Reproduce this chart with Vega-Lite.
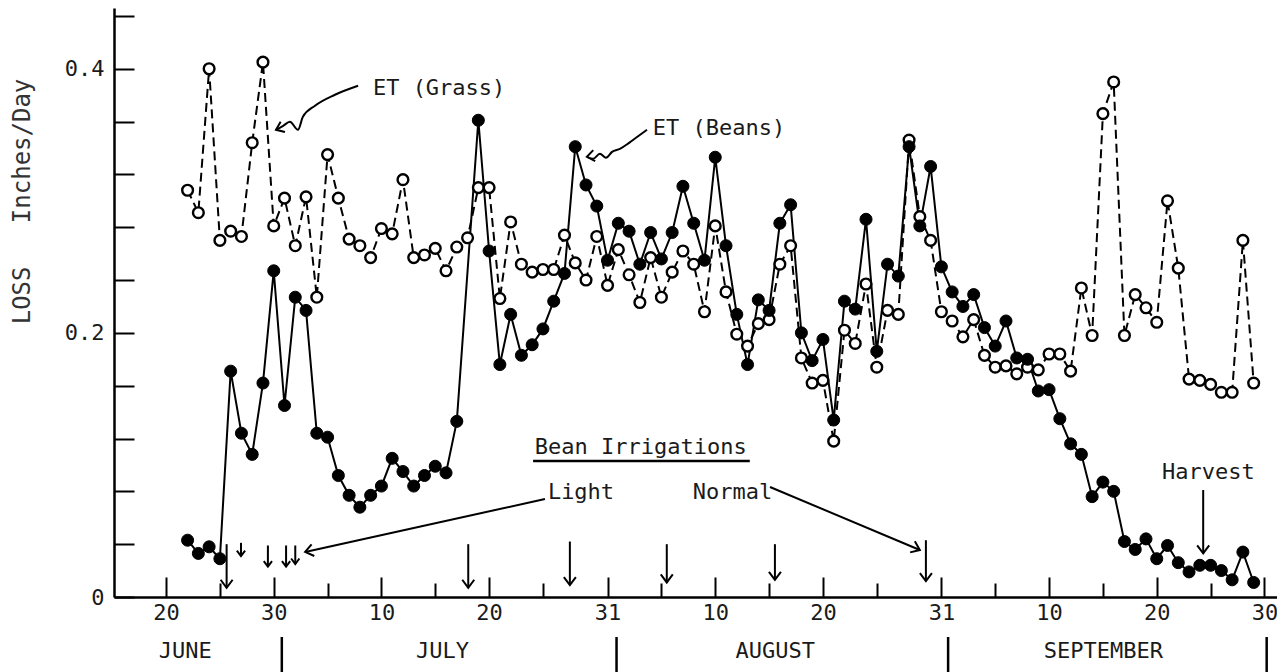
{
  "$schema": "https://vega.github.io/schema/vega-lite/v6.json",
  "width": 1163,
  "height": 589,
  "autosize": {"type": "none"},
  "padding": {"left": 114, "top": 8, "right": 0, "bottom": 75},
  "background": "white",
  "config": {"view": {"stroke": null}, "font": "DejaVu Sans Mono"},
  "data": {
    "format": {"parse": {"date": "utc:'%Y-%m-%d'"}},
    "values": [
      {"date": "1979-06-22", "crop": "Grass", "value": 0.308},
      {"date": "1979-06-23", "crop": "Grass", "value": 0.291},
      {"date": "1979-06-24", "crop": "Grass", "value": 0.400},
      {"date": "1979-06-25", "crop": "Grass", "value": 0.270},
      {"date": "1979-06-26", "crop": "Grass", "value": 0.277},
      {"date": "1979-06-27", "crop": "Grass", "value": 0.273},
      {"date": "1979-06-28", "crop": "Grass", "value": 0.344},
      {"date": "1979-06-29", "crop": "Grass", "value": 0.405},
      {"date": "1979-06-30", "crop": "Grass", "value": 0.281},
      {"date": "1979-07-01", "crop": "Grass", "value": 0.302},
      {"date": "1979-07-02", "crop": "Grass", "value": 0.266},
      {"date": "1979-07-03", "crop": "Grass", "value": 0.303},
      {"date": "1979-07-04", "crop": "Grass", "value": 0.227},
      {"date": "1979-07-05", "crop": "Grass", "value": 0.335},
      {"date": "1979-07-06", "crop": "Grass", "value": 0.302},
      {"date": "1979-07-07", "crop": "Grass", "value": 0.271},
      {"date": "1979-07-08", "crop": "Grass", "value": 0.266},
      {"date": "1979-07-09", "crop": "Grass", "value": 0.257},
      {"date": "1979-07-10", "crop": "Grass", "value": 0.279},
      {"date": "1979-07-11", "crop": "Grass", "value": 0.275},
      {"date": "1979-07-12", "crop": "Grass", "value": 0.316},
      {"date": "1979-07-13", "crop": "Grass", "value": 0.257},
      {"date": "1979-07-14", "crop": "Grass", "value": 0.259},
      {"date": "1979-07-15", "crop": "Grass", "value": 0.264},
      {"date": "1979-07-16", "crop": "Grass", "value": 0.247},
      {"date": "1979-07-17", "crop": "Grass", "value": 0.265},
      {"date": "1979-07-18", "crop": "Grass", "value": 0.272},
      {"date": "1979-07-19", "crop": "Grass", "value": 0.310},
      {"date": "1979-07-20", "crop": "Grass", "value": 0.310},
      {"date": "1979-07-21", "crop": "Grass", "value": 0.226},
      {"date": "1979-07-22", "crop": "Grass", "value": 0.284},
      {"date": "1979-07-23", "crop": "Grass", "value": 0.252},
      {"date": "1979-07-24", "crop": "Grass", "value": 0.246},
      {"date": "1979-07-25", "crop": "Grass", "value": 0.248},
      {"date": "1979-07-26", "crop": "Grass", "value": 0.248},
      {"date": "1979-07-27", "crop": "Grass", "value": 0.274},
      {"date": "1979-07-28", "crop": "Grass", "value": 0.253},
      {"date": "1979-07-29", "crop": "Grass", "value": 0.240},
      {"date": "1979-07-30", "crop": "Grass", "value": 0.273},
      {"date": "1979-07-31", "crop": "Grass", "value": 0.236},
      {"date": "1979-08-01", "crop": "Grass", "value": 0.263},
      {"date": "1979-08-02", "crop": "Grass", "value": 0.244},
      {"date": "1979-08-03", "crop": "Grass", "value": 0.223},
      {"date": "1979-08-04", "crop": "Grass", "value": 0.257},
      {"date": "1979-08-05", "crop": "Grass", "value": 0.227},
      {"date": "1979-08-06", "crop": "Grass", "value": 0.246},
      {"date": "1979-08-07", "crop": "Grass", "value": 0.262},
      {"date": "1979-08-08", "crop": "Grass", "value": 0.252},
      {"date": "1979-08-09", "crop": "Grass", "value": 0.216},
      {"date": "1979-08-10", "crop": "Grass", "value": 0.281},
      {"date": "1979-08-11", "crop": "Grass", "value": 0.231},
      {"date": "1979-08-12", "crop": "Grass", "value": 0.199},
      {"date": "1979-08-13", "crop": "Grass", "value": 0.190},
      {"date": "1979-08-14", "crop": "Grass", "value": 0.207},
      {"date": "1979-08-15", "crop": "Grass", "value": 0.210},
      {"date": "1979-08-16", "crop": "Grass", "value": 0.252},
      {"date": "1979-08-17", "crop": "Grass", "value": 0.266},
      {"date": "1979-08-18", "crop": "Grass", "value": 0.181},
      {"date": "1979-08-19", "crop": "Grass", "value": 0.162},
      {"date": "1979-08-20", "crop": "Grass", "value": 0.164},
      {"date": "1979-08-21", "crop": "Grass", "value": 0.118},
      {"date": "1979-08-22", "crop": "Grass", "value": 0.202},
      {"date": "1979-08-23", "crop": "Grass", "value": 0.192},
      {"date": "1979-08-24", "crop": "Grass", "value": 0.237},
      {"date": "1979-08-25", "crop": "Grass", "value": 0.174},
      {"date": "1979-08-26", "crop": "Grass", "value": 0.217},
      {"date": "1979-08-27", "crop": "Grass", "value": 0.214},
      {"date": "1979-08-28", "crop": "Grass", "value": 0.346},
      {"date": "1979-08-29", "crop": "Grass", "value": 0.288},
      {"date": "1979-08-30", "crop": "Grass", "value": 0.270},
      {"date": "1979-08-31", "crop": "Grass", "value": 0.216},
      {"date": "1979-09-01", "crop": "Grass", "value": 0.209},
      {"date": "1979-09-02", "crop": "Grass", "value": 0.197},
      {"date": "1979-09-03", "crop": "Grass", "value": 0.210},
      {"date": "1979-09-04", "crop": "Grass", "value": 0.183},
      {"date": "1979-09-05", "crop": "Grass", "value": 0.174},
      {"date": "1979-09-06", "crop": "Grass", "value": 0.175},
      {"date": "1979-09-07", "crop": "Grass", "value": 0.169},
      {"date": "1979-09-08", "crop": "Grass", "value": 0.174},
      {"date": "1979-09-09", "crop": "Grass", "value": 0.172},
      {"date": "1979-09-10", "crop": "Grass", "value": 0.184},
      {"date": "1979-09-11", "crop": "Grass", "value": 0.184},
      {"date": "1979-09-12", "crop": "Grass", "value": 0.171},
      {"date": "1979-09-13", "crop": "Grass", "value": 0.234},
      {"date": "1979-09-14", "crop": "Grass", "value": 0.198},
      {"date": "1979-09-15", "crop": "Grass", "value": 0.366},
      {"date": "1979-09-16", "crop": "Grass", "value": 0.390},
      {"date": "1979-09-17", "crop": "Grass", "value": 0.198},
      {"date": "1979-09-18", "crop": "Grass", "value": 0.229},
      {"date": "1979-09-19", "crop": "Grass", "value": 0.219},
      {"date": "1979-09-20", "crop": "Grass", "value": 0.208},
      {"date": "1979-09-21", "crop": "Grass", "value": 0.300},
      {"date": "1979-09-22", "crop": "Grass", "value": 0.249},
      {"date": "1979-09-23", "crop": "Grass", "value": 0.165},
      {"date": "1979-09-24", "crop": "Grass", "value": 0.164},
      {"date": "1979-09-25", "crop": "Grass", "value": 0.161},
      {"date": "1979-09-26", "crop": "Grass", "value": 0.155},
      {"date": "1979-09-27", "crop": "Grass", "value": 0.155},
      {"date": "1979-09-28", "crop": "Grass", "value": 0.270},
      {"date": "1979-09-29", "crop": "Grass", "value": 0.162},
      {"date": "1979-06-22", "crop": "Beans", "value": 0.043},
      {"date": "1979-06-23", "crop": "Beans", "value": 0.033},
      {"date": "1979-06-24", "crop": "Beans", "value": 0.038},
      {"date": "1979-06-25", "crop": "Beans", "value": 0.029},
      {"date": "1979-06-26", "crop": "Beans", "value": 0.171},
      {"date": "1979-06-27", "crop": "Beans", "value": 0.124},
      {"date": "1979-06-28", "crop": "Beans", "value": 0.108},
      {"date": "1979-06-29", "crop": "Beans", "value": 0.162},
      {"date": "1979-06-30", "crop": "Beans", "value": 0.247},
      {"date": "1979-07-01", "crop": "Beans", "value": 0.145},
      {"date": "1979-07-02", "crop": "Beans", "value": 0.227},
      {"date": "1979-07-03", "crop": "Beans", "value": 0.217},
      {"date": "1979-07-04", "crop": "Beans", "value": 0.124},
      {"date": "1979-07-05", "crop": "Beans", "value": 0.121},
      {"date": "1979-07-06", "crop": "Beans", "value": 0.092},
      {"date": "1979-07-07", "crop": "Beans", "value": 0.077},
      {"date": "1979-07-08", "crop": "Beans", "value": 0.068},
      {"date": "1979-07-09", "crop": "Beans", "value": 0.077},
      {"date": "1979-07-10", "crop": "Beans", "value": 0.084},
      {"date": "1979-07-11", "crop": "Beans", "value": 0.105},
      {"date": "1979-07-12", "crop": "Beans", "value": 0.095},
      {"date": "1979-07-13", "crop": "Beans", "value": 0.084},
      {"date": "1979-07-14", "crop": "Beans", "value": 0.092},
      {"date": "1979-07-15", "crop": "Beans", "value": 0.099},
      {"date": "1979-07-16", "crop": "Beans", "value": 0.094},
      {"date": "1979-07-17", "crop": "Beans", "value": 0.133},
      {"date": "1979-07-19", "crop": "Beans", "value": 0.361},
      {"date": "1979-07-20", "crop": "Beans", "value": 0.262},
      {"date": "1979-07-21", "crop": "Beans", "value": 0.176},
      {"date": "1979-07-22", "crop": "Beans", "value": 0.214},
      {"date": "1979-07-23", "crop": "Beans", "value": 0.183},
      {"date": "1979-07-24", "crop": "Beans", "value": 0.191},
      {"date": "1979-07-25", "crop": "Beans", "value": 0.203},
      {"date": "1979-07-26", "crop": "Beans", "value": 0.224},
      {"date": "1979-07-27", "crop": "Beans", "value": 0.245},
      {"date": "1979-07-28", "crop": "Beans", "value": 0.341},
      {"date": "1979-07-29", "crop": "Beans", "value": 0.312},
      {"date": "1979-07-30", "crop": "Beans", "value": 0.296},
      {"date": "1979-07-31", "crop": "Beans", "value": 0.255},
      {"date": "1979-08-01", "crop": "Beans", "value": 0.283},
      {"date": "1979-08-02", "crop": "Beans", "value": 0.277},
      {"date": "1979-08-03", "crop": "Beans", "value": 0.252},
      {"date": "1979-08-04", "crop": "Beans", "value": 0.276},
      {"date": "1979-08-05", "crop": "Beans", "value": 0.256},
      {"date": "1979-08-06", "crop": "Beans", "value": 0.276},
      {"date": "1979-08-07", "crop": "Beans", "value": 0.311},
      {"date": "1979-08-08", "crop": "Beans", "value": 0.283},
      {"date": "1979-08-09", "crop": "Beans", "value": 0.255},
      {"date": "1979-08-10", "crop": "Beans", "value": 0.333},
      {"date": "1979-08-11", "crop": "Beans", "value": 0.266},
      {"date": "1979-08-12", "crop": "Beans", "value": 0.214},
      {"date": "1979-08-13", "crop": "Beans", "value": 0.176},
      {"date": "1979-08-14", "crop": "Beans", "value": 0.225},
      {"date": "1979-08-15", "crop": "Beans", "value": 0.217},
      {"date": "1979-08-16", "crop": "Beans", "value": 0.283},
      {"date": "1979-08-17", "crop": "Beans", "value": 0.297},
      {"date": "1979-08-18", "crop": "Beans", "value": 0.200},
      {"date": "1979-08-19", "crop": "Beans", "value": 0.179},
      {"date": "1979-08-20", "crop": "Beans", "value": 0.195},
      {"date": "1979-08-21", "crop": "Beans", "value": 0.134},
      {"date": "1979-08-22", "crop": "Beans", "value": 0.224},
      {"date": "1979-08-23", "crop": "Beans", "value": 0.218},
      {"date": "1979-08-24", "crop": "Beans", "value": 0.286},
      {"date": "1979-08-25", "crop": "Beans", "value": 0.186},
      {"date": "1979-08-26", "crop": "Beans", "value": 0.252},
      {"date": "1979-08-27", "crop": "Beans", "value": 0.243},
      {"date": "1979-08-28", "crop": "Beans", "value": 0.341},
      {"date": "1979-08-29", "crop": "Beans", "value": 0.281},
      {"date": "1979-08-30", "crop": "Beans", "value": 0.326},
      {"date": "1979-08-31", "crop": "Beans", "value": 0.250},
      {"date": "1979-09-01", "crop": "Beans", "value": 0.231},
      {"date": "1979-09-02", "crop": "Beans", "value": 0.220},
      {"date": "1979-09-03", "crop": "Beans", "value": 0.229},
      {"date": "1979-09-04", "crop": "Beans", "value": 0.204},
      {"date": "1979-09-05", "crop": "Beans", "value": 0.190},
      {"date": "1979-09-06", "crop": "Beans", "value": 0.209},
      {"date": "1979-09-07", "crop": "Beans", "value": 0.181},
      {"date": "1979-09-08", "crop": "Beans", "value": 0.180},
      {"date": "1979-09-09", "crop": "Beans", "value": 0.156},
      {"date": "1979-09-10", "crop": "Beans", "value": 0.157},
      {"date": "1979-09-11", "crop": "Beans", "value": 0.135},
      {"date": "1979-09-12", "crop": "Beans", "value": 0.116},
      {"date": "1979-09-13", "crop": "Beans", "value": 0.108},
      {"date": "1979-09-14", "crop": "Beans", "value": 0.076},
      {"date": "1979-09-15", "crop": "Beans", "value": 0.087},
      {"date": "1979-09-16", "crop": "Beans", "value": 0.080},
      {"date": "1979-09-17", "crop": "Beans", "value": 0.042},
      {"date": "1979-09-18", "crop": "Beans", "value": 0.036},
      {"date": "1979-09-19", "crop": "Beans", "value": 0.044},
      {"date": "1979-09-20", "crop": "Beans", "value": 0.029},
      {"date": "1979-09-21", "crop": "Beans", "value": 0.039},
      {"date": "1979-09-22", "crop": "Beans", "value": 0.026},
      {"date": "1979-09-23", "crop": "Beans", "value": 0.019},
      {"date": "1979-09-24", "crop": "Beans", "value": 0.024},
      {"date": "1979-09-25", "crop": "Beans", "value": 0.024},
      {"date": "1979-09-26", "crop": "Beans", "value": 0.020},
      {"date": "1979-09-27", "crop": "Beans", "value": 0.013},
      {"date": "1979-09-28", "crop": "Beans", "value": 0.034},
      {"date": "1979-09-29", "crop": "Beans", "value": 0.011}
    ]
  },
  "encoding": {
    "x": {
      "field": "date", "type": "temporal",
      "scale": {"type": "utc", "nice": false, "domain": [{"year": 1979, "month": 6, "date": 15, "hours": 4, "utc": true}, {"year": 1979, "month": 10, "date": 1, "hours": 4, "utc": true}]},
      "axis": {
        "title": null, "grid": false,
        "values": [
          {"year": 1979, "month": 6, "date": 20, "utc": true},
          {"year": 1979, "month": 6, "date": 25, "utc": true},
          {"year": 1979, "month": 6, "date": 30, "utc": true},
          {"year": 1979, "month": 7, "date": 5, "utc": true},
          {"year": 1979, "month": 7, "date": 10, "utc": true},
          {"year": 1979, "month": 7, "date": 15, "utc": true},
          {"year": 1979, "month": 7, "date": 20, "utc": true},
          {"year": 1979, "month": 7, "date": 25, "utc": true},
          {"year": 1979, "month": 7, "date": 31, "utc": true},
          {"year": 1979, "month": 8, "date": 5, "utc": true},
          {"year": 1979, "month": 8, "date": 10, "utc": true},
          {"year": 1979, "month": 8, "date": 15, "utc": true},
          {"year": 1979, "month": 8, "date": 20, "utc": true},
          {"year": 1979, "month": 8, "date": 25, "utc": true},
          {"year": 1979, "month": 8, "date": 31, "utc": true},
          {"year": 1979, "month": 9, "date": 5, "utc": true},
          {"year": 1979, "month": 9, "date": 10, "utc": true},
          {"year": 1979, "month": 9, "date": 15, "utc": true},
          {"year": 1979, "month": 9, "date": 20, "utc": true},
          {"year": 1979, "month": 9, "date": 25, "utc": true},
          {"year": 1979, "month": 9, "date": 30, "utc": true}
        ],
        "labelExpr": "indexof([10, 20, 30, 31], utcdate(datum.value)) >= 0 ? '' + utcdate(datum.value) : ''",
        "tickSize": {"condition": {"test": "indexof([10, 20, 30, 31], utcdate(datum.value)) >= 0", "value": -20}, "value": -14},
        "tickWidth": 2, "tickColor": "black",
        "domainColor": "black", "domainWidth": 2.5,
        "labelPadding": 25, "labelFont": "DejaVu Sans Mono", "labelFontSize": 22, "labelColor": "#1a1a1a",
        "labelFlush": false, "labelOverlap": false, "labelBaseline": "top", "labelAlign": "center"
      }
    },
    "y": {
      "field": "value", "type": "quantitative",
      "scale": {"domain": [0, 0.446], "nice": false, "zero": true},
      "axis": {
        "grid": false,
        "values": [0, 0.04, 0.08, 0.12, 0.16, 0.2, 0.24, 0.28, 0.32, 0.36, 0.4, 0.44],
        "labelExpr": "datum.value == 0 ? '0' : (datum.value == 0.2 ? '0.2' : (datum.value == 0.4 ? '0.4' : ''))",
        "tickSize": -20, "tickWidth": 2, "tickColor": "black",
        "domainColor": "black", "domainWidth": 2.5,
        "labelPadding": 30, "labelFont": "DejaVu Sans Mono", "labelFontSize": 22, "labelColor": "#1a1a1a",
        "labelOverlap": false,
        "title": "LOSS\u00a0\u00a0\u00a0Inches/Day",
        "titleFont": "DejaVu Sans Mono", "titleFontSize": 24, "titleFontWeight": "normal", "titleColor": "#333333",
        "titleX": -80, "titleY": 193, "titleAlign": "center"
      }
    }
  },
  "layer": [
    {
      "transform": [{"filter": "datum.crop == 'Grass'"}],
      "mark": {"type": "line", "stroke": "black", "strokeWidth": 2, "strokeDash": [9, 5]}
    },
    {
      "transform": [{"filter": "datum.crop == 'Beans'"}],
      "mark": {"type": "line", "stroke": "black", "strokeWidth": 2}
    },
    {
      "transform": [{"filter": "datum.crop == 'Grass'"}],
      "mark": {"type": "point", "shape": "circle", "filled": true, "fill": "white", "stroke": "black", "strokeWidth": 2.4, "size": 115, "opacity": 1}
    },
    {
      "transform": [{"filter": "datum.crop == 'Beans'"}],
      "mark": {"type": "point", "shape": "circle", "filled": true, "fill": "black", "stroke": "black", "strokeWidth": 1, "size": 145, "opacity": 1}
    },
    {
      "data": {
        "format": {"parse": {"date": "utc:'%Y-%m-%d %H:%M'", "date2": "utc:'%Y-%m-%d %H:%M'"}},
        "values": [
          {"kind": "normal", "date": "1979-06-25 15:00", "value": 0.040, "date2": "1979-06-25 15:00", "value2": 0.007},
          {"kind": "light", "date": "1979-06-26 23:00", "value": 0.041, "date2": "1979-06-26 23:00", "value2": 0.031},
          {"kind": "light", "date": "1979-06-29 11:00", "value": 0.039, "date2": "1979-06-29 11:00", "value2": 0.023},
          {"kind": "light", "date": "1979-07-01 03:30", "value": 0.039, "date2": "1979-07-01 03:30", "value2": 0.023},
          {"kind": "light", "date": "1979-07-02 00:00", "value": 0.039, "date2": "1979-07-02 00:00", "value2": 0.025},
          {"kind": "normal", "date": "1979-07-18 01:30", "value": 0.040, "date2": "1979-07-18 01:30", "value2": 0.007},
          {"kind": "normal", "date": "1979-07-27 12:00", "value": 0.042, "date2": "1979-07-27 12:00", "value2": 0.009},
          {"kind": "normal", "date": "1979-08-05 12:00", "value": 0.040, "date2": "1979-08-05 12:00", "value2": 0.011},
          {"kind": "normal", "date": "1979-08-15 13:00", "value": 0.040, "date2": "1979-08-15 13:00", "value2": 0.013},
          {"kind": "normal", "date": "1979-08-29 13:30", "value": 0.043, "date2": "1979-08-29 13:30", "value2": 0.012},
          {"kind": "harvest", "date": "1979-09-24 07:30", "value": 0.081, "date2": "1979-09-24 07:30", "value2": 0.033},
          {"kind": "Light pointer", "date": "1979-07-25 04:30", "value": 0.0742, "date2": "1979-07-02 22:00", "value2": 0.0341},
          {"kind": "Normal pointer", "date": "1979-08-15 02:00", "value": 0.0833, "date2": "1979-08-29 00:00", "value2": 0.0356}
        ]
      },
      "layer": [
        {
          "mark": {"type": "rule", "stroke": "black", "strokeWidth": 2},
          "encoding": {"x2": {"field": "date2"}, "y2": {"field": "value2"}}
        },
        {
          "mark": {"type": "point", "shape": "M-0.75,-1L0,0L0.75,-1", "filled": false, "stroke": "black", "strokeWidth": 2, "opacity": 1},
          "encoding": {
            "x": {"field": "date2", "type": "temporal"},
            "y": {"field": "value2", "type": "quantitative"},
            "angle": {"condition": [{"test": "datum.kind == 'Light pointer'", "value": 77}, {"test": "datum.kind == 'Normal pointer'", "value": 293}], "value": 0},
            "size": {"condition": {"test": "datum.kind == 'light'", "value": 120}, "value": 256}
          }
        }
      ]
    },
    {
      "data": {
        "format": {"parse": {"date": "utc:'%Y-%m-%d %H:%M'"}},
        "values": [
          {"curve": "grass", "tip": true, "date": "1979-06-30 05:00", "value": 0.3538},
          {"curve": "grass", "tip": false, "date": "1979-06-30 21:00", "value": 0.3568},
          {"curve": "grass", "tip": false, "date": "1979-07-01 12:00", "value": 0.3598},
          {"curve": "grass", "tip": false, "date": "1979-07-02 06:00", "value": 0.3538},
          {"curve": "grass", "tip": false, "date": "1979-07-02 17:00", "value": 0.3636},
          {"curve": "grass", "tip": false, "date": "1979-07-03 20:00", "value": 0.3720},
          {"curve": "grass", "tip": false, "date": "1979-07-05 16:30", "value": 0.3803},
          {"curve": "grass", "tip": false, "date": "1979-07-07 20:00", "value": 0.3871},
          {"curve": "beans", "tip": true, "date": "1979-07-29 02:00", "value": 0.3333},
          {"curve": "beans", "tip": false, "date": "1979-07-29 15:30", "value": 0.3318},
          {"curve": "beans", "tip": false, "date": "1979-07-30 07:00", "value": 0.3356},
          {"curve": "beans", "tip": false, "date": "1979-07-30 20:30", "value": 0.3326},
          {"curve": "beans", "tip": false, "date": "1979-07-31 10:00", "value": 0.3371},
          {"curve": "beans", "tip": false, "date": "1979-08-01 03:30", "value": 0.3394},
          {"curve": "beans", "tip": false, "date": "1979-08-02 00:00", "value": 0.3439},
          {"curve": "beans", "tip": false, "date": "1979-08-02 20:00", "value": 0.3489},
          {"curve": "beans", "tip": false, "date": "1979-08-03 16:00", "value": 0.3538}
        ]
      },
      "layer": [
        {
          "mark": {"type": "line", "stroke": "black", "strokeWidth": 2, "interpolate": "monotone"},
          "encoding": {"detail": {"field": "curve"}}
        },
        {
          "transform": [{"filter": "datum.tip"}],
          "mark": {"type": "point", "shape": "M-0.75,-1L0,0L0.75,-1", "filled": false, "stroke": "black", "strokeWidth": 2, "size": 220, "opacity": 1},
          "encoding": {
            "angle": {"condition": {"test": "datum.curve == 'grass'", "value": 67}, "value": 80}
          }
        }
      ]
    },
    {
      "data": {
        "format": {"parse": {"date": "utc:'%Y-%m-%d %H:%M'", "date2": "utc:'%Y-%m-%d %H:%M'"}},
        "values": [
          {"date": "1979-07-24 02:00", "date2": "1979-08-13 05:00", "value": 0.103},
          {"date": "1979-06-30 18:00", "date2": "1979-06-30 18:00", "value": -0.0303, "value2": -0.058},
          {"date": "1979-07-31 20:00", "date2": "1979-07-31 20:00", "value": -0.0303, "value2": -0.058},
          {"date": "1979-08-31 15:00", "date2": "1979-08-31 15:00", "value": -0.0303, "value2": -0.058},
          {"date": "1979-09-30 05:00", "date2": "1979-09-30 05:00", "value": -0.0303, "value2": -0.058}
        ]
      },
      "mark": {"type": "rule", "stroke": "black", "strokeWidth": 2.5},
      "encoding": {"x2": {"field": "date2"}, "y2": {"field": "value2"}}
    },
    {
      "data": {
        "format": {"parse": {"date": "utc:'%Y-%m-%d %H:%M'"}},
        "values": [
          {"text": "ET (Grass)", "date": "1979-07-09 05:00", "value": 0.3856},
          {"text": "ET (Beans)", "date": "1979-08-04 05:00", "value": 0.3553},
          {"text": "Bean Irrigations", "date": "1979-07-24 06:00", "value": 0.1136},
          {"text": "Light", "date": "1979-07-25 11:00", "value": 0.0795},
          {"text": "Normal", "date": "1979-08-07 22:00", "value": 0.0795},
          {"text": "Harvest", "date": "1979-09-20 11:30", "value": 0.0947},
          {"text": "JUNE", "date": "1979-06-19 08:00", "value": -0.0409},
          {"text": "JULY", "date": "1979-07-13 05:00", "value": -0.0409},
          {"text": "AUGUST", "date": "1979-08-11 21:00", "value": -0.0409},
          {"text": "SEPTEMBER", "date": "1979-09-09 12:00", "value": -0.0409}
        ]
      },
      "mark": {"type": "text", "align": "left", "baseline": "middle", "font": "DejaVu Sans Mono", "fontSize": 22, "color": "#1a1a1a"},
      "encoding": {"text": {"field": "text"}}
    }
  ]
}
